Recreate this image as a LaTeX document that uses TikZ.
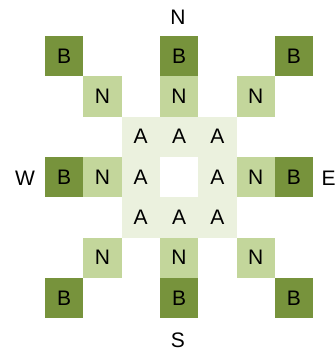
\documentclass[tikz,border=0pt]{standalone}
\usepackage{fontspec}
\setmainfont{Liberation Sans}
\definecolor{bdark}{HTML}{77933C}
\definecolor{nmid}{HTML}{C3D69B}
\definecolor{alight}{HTML}{EBF1DE}
\tikzset{
  cell/.style={minimum width=38.3pt, minimum height=40.3pt, inner sep=0pt, outer sep=0pt, font=\fontsize{21}{23}\selectfont},
  bcell/.style={cell, fill=bdark},
  ncell/.style={cell, fill=nmid},
  acell/.style={cell},
  dirlabel/.style={inner sep=0pt, font=\fontsize{21}{23}\selectfont},
}
\begin{document}
\begin{tikzpicture}[x=1pt,y=-1pt]
\useasboundingbox (0,0) rectangle (336,353);
% A region background
\fill[alight] (121.6,116.6) rectangle (236.5,237.5);
\fill[white] (160,156.9) rectangle (198.2,197.2);
% row 0
\node[bcell] (b00) at (64.15,56.15) {B};
\node[bcell] (b03) at (179.05,56.15) {B};
\node[bcell] (b06) at (293.95,56.15) {B};
% row 1
\node[ncell] (n11) at (102.45,96.45) {N};
\node[ncell] (n13) at (179.05,96.45) {N};
\node[ncell] (n15) at (255.65,96.45) {N};
% row 2
\node[acell] (a22) at (140.75,136.75) {A};
\node[acell] (a23) at (179.05,136.75) {A};
\node[acell] (a24) at (217.35,136.75) {A};
% row 3
\node[bcell] (b30) at (64.15,177.05) {B};
\node[ncell] (n31) at (102.45,177.05) {N};
\node[acell] (a32) at (140.75,177.05) {A};
\node[acell] (a34) at (217.35,177.05) {A};
\node[ncell] (n35) at (255.65,177.05) {N};
\node[bcell] (b36) at (293.95,177.05) {B};
% row 4
\node[acell] (a42) at (140.75,217.35) {A};
\node[acell] (a43) at (179.05,217.35) {A};
\node[acell] (a44) at (217.35,217.35) {A};
% row 5
\node[ncell] (n51) at (102.45,257.65) {N};
\node[ncell] (n53) at (179.05,257.65) {N};
\node[ncell] (n55) at (255.65,257.65) {N};
% row 6
\node[bcell] (b60) at (64.15,297.95) {B};
\node[bcell] (b63) at (179.05,297.95) {B};
\node[bcell] (b66) at (293.95,297.95) {B};
% compass labels
\node[dirlabel] (north) at (178,17) {N};
\node[dirlabel] (south) at (178,340) {S};
\node[dirlabel] (west) at (25,178) {W};
\node[dirlabel] (east) at (328.5,178) {E};
\end{tikzpicture}
\end{document}
